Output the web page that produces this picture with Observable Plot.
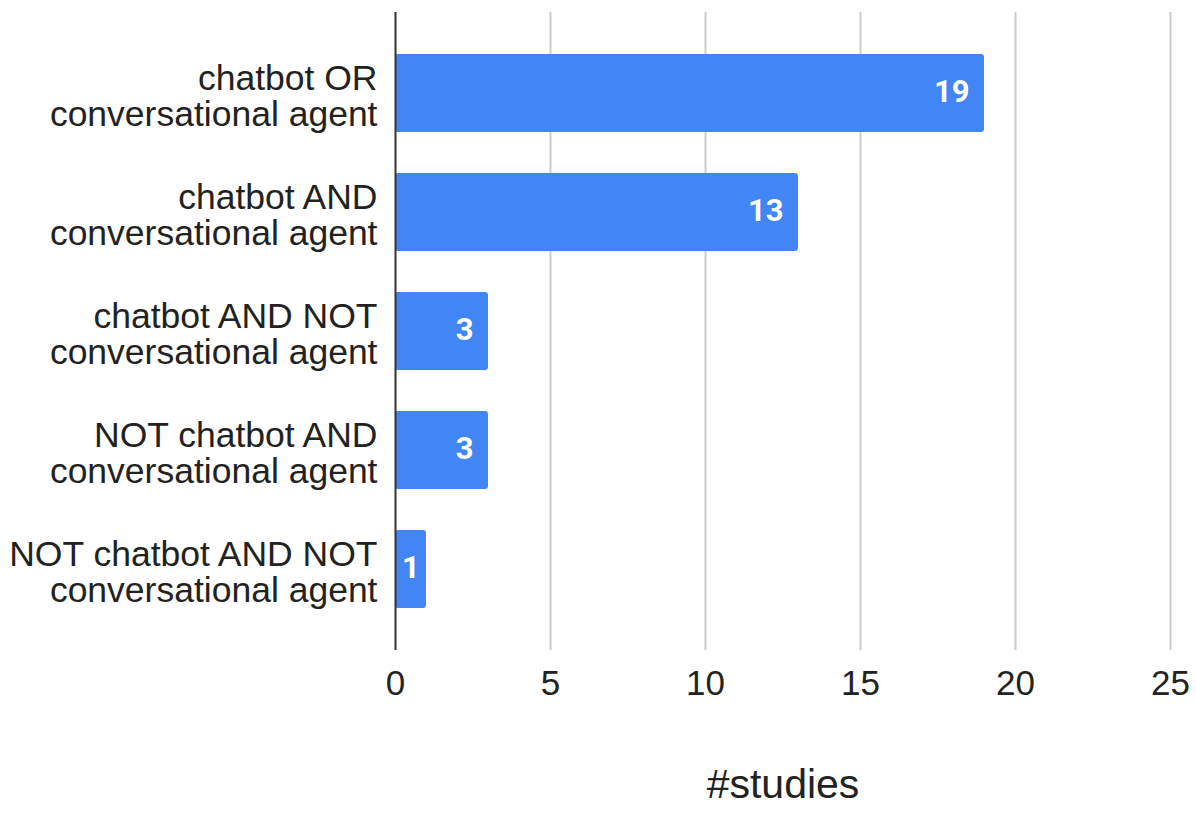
<!DOCTYPE html>
<html>
<head>
<meta charset="utf-8">
<script src="https://cdn.jsdelivr.net/npm/d3@7"></script>
<script src="https://cdn.jsdelivr.net/npm/@observablehq/plot@0.6"></script>
<style>
  html, body { margin: 0; padding: 0; background: #fff; }
</style>
</head>
<body>
<div id="chart"></div>
<script>
const categories = [
  "chatbot OR\nconversational agent",
  "chatbot AND\nconversational agent",
  "chatbot AND NOT\nconversational agent",
  "NOT chatbot AND\nconversational agent",
  "NOT chatbot AND NOT\nconversational agent"
];
const studies = [19, 13, 3, 3, 1];
const xTicks = [0, 5, 10, 15, 20, 25];
const xLabel = "#studies";

const data = categories.map((c, i) => ({category: c, value: studies[i]}));

const chart = Plot.plot({
  width: 1196,
  height: 820,
  marginLeft: 395,
  marginRight: 26,
  marginTop: 12,
  marginBottom: 170,
  style: {fontFamily: "Arial, 'Liberation Sans', sans-serif", fontSize: "34px", color: "#222", background: "#fff"},
  x: {domain: [0, 25], ticks: xTicks},
  y: {domain: categories, paddingInner: 0.345, paddingOuter: 0.353},
  marks: [
    Plot.gridX(xTicks.filter(t => t > 0), {stroke: "#ccc", strokeOpacity: 1, strokeWidth: 2}),
    Plot.barX(data, {x: "value", y: "category", fill: "#4285f4", rx: 3}),
    Plot.ruleX([0], {stroke: "#333", strokeWidth: 2}),
    Plot.text(data.filter(d => d.value > 1), {
      x: "value", y: "category", text: d => String(d.value),
      textAnchor: "end", dx: -15, dy: -1, fill: "white", fontWeight: "bold",
      fontFamily: "Roboto, sans-serif", fontSize: 31
    }),
    Plot.text(data.filter(d => d.value <= 1), {
      x: d => d.value / 2, y: "category", text: d => String(d.value),
      textAnchor: "middle", dy: -1, fill: "white", fontWeight: "bold",
      fontFamily: "Roboto, sans-serif", fontSize: 31
    }),
    Plot.axisX({ticks: xTicks, tickSize: 0, tickPadding: 20, fontSize: 35, label: null}),
    Plot.axisY({tickSize: 0, tickPadding: 18, fontSize: 35.5, lineHeight: 1.03, dy: 3, label: null}),
    Plot.text([xLabel], {frameAnchor: "bottom", dy: 147, fontSize: 41, fill: "#222"})
  ]
});
document.getElementById("chart").appendChild(chart);
</script>
</body>
</html>
